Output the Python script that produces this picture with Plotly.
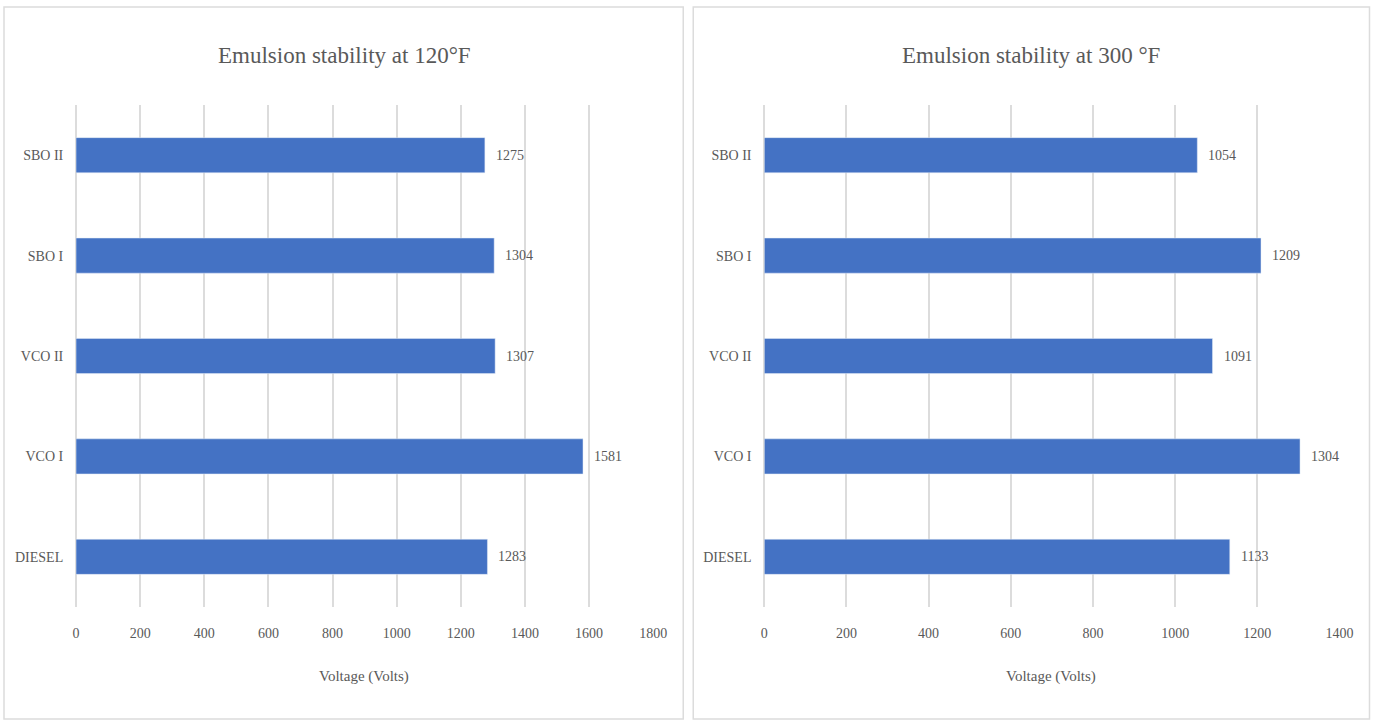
import plotly.graph_objects as go

W, H = 1377, 722

categories = ["DIESEL", "VCO I", "VCO II", "SBO I", "SBO II"]
volts_120f = [1283, 1581, 1307, 1304, 1275]
volts_300f = [1133, 1304, 1091, 1209, 1054]
ticks_120f = [0, 200, 400, 600, 800, 1000, 1200, 1400, 1600, 1800]
ticks_300f = [0, 200, 400, 600, 800, 1000, 1200, 1400]

FONT = "Liberation Serif, Times New Roman, serif"
GREY = "#595959"
GRID = "#DCDCDC"
BLUE = "#4472C4"


def px_x(v):
    # the captured page comes out slightly narrower than the layout,
    # so map screen pixels back to paper coords
    return (v - 4) / 0.9873 / W


def px_y(v):
    # pixels from the top -> paper coords
    return 1 - v / H


fig = go.Figure()

fig.add_trace(go.Bar(x=volts_120f, y=categories, orientation="h",
                     marker_color=BLUE, xaxis="x", yaxis="y", width=0.35))
fig.add_trace(go.Bar(x=volts_300f, y=categories, orientation="h",
                     marker_color=BLUE, xaxis="x2", yaxis="y2", width=0.35))

# value labels just past the bar ends
for vals, xa, ya in [(volts_120f, "x", "y"), (volts_300f, "x2", "y2")]:
    for c, v in zip(categories, vals):
        fig.add_annotation(x=v, y=c, xref=xa, yref=ya, text=str(v),
                           showarrow=False, xanchor="left", xshift=9,
                           font=dict(family=FONT, size=14, color=GREY))

y_dom = [px_y(607), px_y(105)]

xaxis_common = dict(showgrid=True, gridcolor=GRID, gridwidth=1.5,
                    zeroline=True, zerolinecolor=GRID, zerolinewidth=1.5,
                    showline=False, ticks="outside", ticklen=13,
                    tickcolor="rgba(0,0,0,0)",
                    tickfont=dict(family=FONT, size=14, color=GREY))
yaxis_common = dict(showgrid=False, showline=False, ticks="outside",
                    ticklen=9, tickcolor="rgba(0,0,0,0)",
                    tickfont=dict(family=FONT, size=14, color=GREY),
                    categoryorder="array", categoryarray=categories,
                    domain=y_dom)

fig.update_layout(
    width=W, height=H, autosize=False,
    margin=dict(l=0, r=0, t=0, b=0),
    paper_bgcolor="white", plot_bgcolor="white",
    showlegend=False,
    xaxis=dict(xaxis_common, domain=[px_x(77), px_x(654)], range=[0, 1800],
               tickvals=ticks_120f, anchor="y"),
    yaxis=dict(yaxis_common, anchor="x"),
    xaxis2=dict(xaxis_common, domain=[px_x(765), px_x(1340)], range=[0, 1400],
                tickvals=ticks_300f, anchor="y2"),
    yaxis2=dict(yaxis_common, anchor="x2"),
)

# panel frames
for x0, x1 in [(5, 684), (694, 1370)]:
    fig.add_shape(type="rect", xref="paper", yref="paper",
                  x0=px_x(x0), x1=px_x(x1), y0=px_y(719), y1=px_y(7),
                  line=dict(color=GRID, width=1.5), fillcolor="rgba(0,0,0,0)",
                  layer="below")

# titles and axis titles
titles = ["Emulsion stability at 120°F", "Emulsion stability at 300 °F"]
for cx, t in zip([345, 1032], titles):
    fig.add_annotation(x=px_x(cx), y=px_y(55), xref="paper", yref="paper",
                       text=t, showarrow=False, xanchor="center",
                       yanchor="middle",
                       font=dict(family=FONT, size=23, color=GREY))
for cx in [365, 1052]:
    fig.add_annotation(x=px_x(cx), y=px_y(676), xref="paper", yref="paper",
                       text="Voltage (Volts)", showarrow=False,
                       xanchor="center", yanchor="middle",
                       font=dict(family=FONT, size=15, color=GREY))

# drop the default page margin so the figure fills the window exactly
fix_page = (
    "document.body.style.margin='0';"
    "document.body.style.overflow='hidden';"
    "Plotly.relayout('{plot_id}', {width: %d, height: %d});" % (W, H)
)

fig.write_html("out.html", config={"responsive": False, "displayModeBar": False},
               post_script=fix_page)
